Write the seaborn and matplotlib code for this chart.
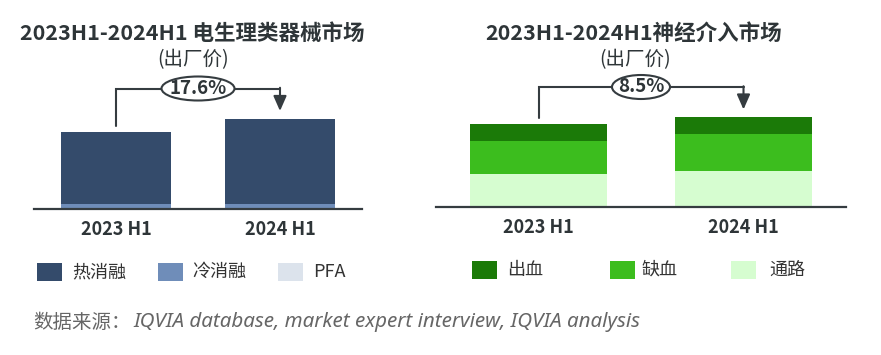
import matplotlib
matplotlib.use('Agg')
import matplotlib.pyplot as plt
from matplotlib.patches import Ellipse, Rectangle
import seaborn as sns

sns.set_theme(style='white')
plt.rcParams['font.family'] = ['Noto Sans CJK SC', 'DejaVu Sans']

# data (arbitrary units)
periods = ['2023 H1', '2024 H1']

ep_labels = ['热消融', '冷消融', 'PFA']
ep_hot = [72.0, 85.5]
ep_cold = [4.5, 4.5]
ep_pfa = [0.5, 0.5]
ep_growth = '17.6%'

ni_labels = ['出血', '缺血', '通路']
ni_bleed = [17.0, 17.0]
ni_isch = [33.0, 37.0]
ni_access = [33.0, 36.0]
ni_growth = '8.5%'

ep_colors = ['#344b6b', '#6f8db9', '#dce3ec']
ni_colors = ['#1b7a08', '#3cbd1e', '#d6fdd0']
dark = '#2e3538'
line_c = '#353c40'

W, H = 881, 355
fig = plt.figure(figsize=(W / 100, H / 100), dpi=100)


def px_axes(x0, x1, base, top):
    return fig.add_axes([x0 / W, 1 - base / H, (x1 - x0) / W, (base - top) / H])


def stacked(ax, segments, colors):
    # segments bottom-up, draw cumulative sums from the top down
    cums = []
    run = [0.0] * len(periods)
    for seg in segments:
        run = [a + b for a, b in zip(run, seg)]
        cums.append(run)
    for cum, c in reversed(list(zip(cums, colors))):
        sns.barplot(x=periods, y=cum, color=c, width=0.67, saturation=1,
                    errorbar=None, edgecolor='none', linewidth=0, ax=ax)
    return cums[-1]


def style_axes(ax):
    ax.set_xlim(-0.5, 1.5)
    ax.set_ylim(0, 169)
    ax.set_yticks([])
    for s in ['top', 'left', 'right']:
        ax.spines[s].set_visible(False)
    ax.spines['bottom'].set_color(line_c)
    ax.spines['bottom'].set_linewidth(1.6)
    ax.set_xticks([0, 1])
    ax.set_xticklabels(periods, fontsize=13, fontweight='bold', color=dark)
    ax.tick_params(axis='x', length=0, pad=8)
    ax.set_facecolor('none')


def bracket(ax, totals, pct, ell_w, ell_h):
    y_top = max(totals) + 30
    y_start = totals[0] + 6
    y_end = totals[1] + 7.5
    ax.plot([0, 0, 1], [y_start, y_top, y_top], color=line_c, lw=1.5,
            clip_on=False, solid_joinstyle='miter')
    ax.annotate('', xy=(1, y_end), xytext=(1, y_top + 0.75), annotation_clip=False,
                arrowprops=dict(arrowstyle='-|>,head_width=0.33,head_length=0.75',
                                color=line_c, lw=1.5, shrinkA=0, shrinkB=0))
    ax.add_patch(Ellipse((0.5, y_top), ell_w, ell_h, fc='white', ec=line_c,
                         lw=1.5, zorder=5, clip_on=False))
    ax.text(0.5, y_top, pct, ha='center', va='center', fontsize=13.5,
            fontweight='bold', color=dark, zorder=6)


# left: electrophysiology
ax1 = px_axes(34, 362, 209, 40)
tot1 = stacked(ax1, [ep_pfa, ep_cold, ep_hot], [ep_colors[2], ep_colors[1], ep_colors[0]])
style_axes(ax1)
bracket(ax1, tot1, ep_growth, 0.445, 24)

# right: neuro-intervention
ax2 = px_axes(436, 846, 207, 38)
tot2 = stacked(ax2, [ni_access, ni_isch, ni_bleed], [ni_colors[2], ni_colors[1], ni_colors[0]])
style_axes(ax2)
bracket(ax2, tot2, ni_growth, 0.283, 24)


def ftext(x, y, s, **kw):
    fig.text(x / W, 1 - y / H, s, **kw)


ftext(192, 33, '2023H1-2024H1 电生理类器械市场', ha='center', va='center',
      fontsize=15.5, fontweight='bold', color=dark)
ftext(193, 60, '(出厂价)', ha='center', va='center', fontsize=14, color=dark)
ftext(634, 33, '2023H1-2024H1神经介入市场', ha='center', va='center',
      fontsize=15.5, fontweight='bold', color=dark)
ftext(635, 60, '(出厂价)', ha='center', va='center', fontsize=14, color=dark)

# legends
def legend_item(xsq, xtxt, label, color, y=272):
    fig.patches.append(Rectangle((xsq / W, 1 - (y + 9) / H), 25 / W, 18 / H,
                                 transform=fig.transFigure, fc=color, ec='none'))
    ftext(xtxt, y, label, ha='left', va='center', fontsize=13, color='#333333')


for xs, xt, lab, c in zip([37, 158, 278], [72, 192, 313], ep_labels, ep_colors):
    legend_item(xs, xt, lab, c)
for xs, xt, lab, c in zip([472, 610, 731], [507, 642, 769], ni_labels, ni_colors):
    legend_item(xs, xt, lab, c, y=270)

# source
ftext(33, 322, '数据来源：', ha='left', va='center', fontsize=14, color='#666666')
fig.text(133 / W, 1 - 322 / H, 'IQVIA database, market expert interview, IQVIA analysis',
         ha='left', va='center', fontsize=14.8, color='#666666',
         family='Noto Sans', style='italic')

fig.savefig('out.png', dpi=100)
